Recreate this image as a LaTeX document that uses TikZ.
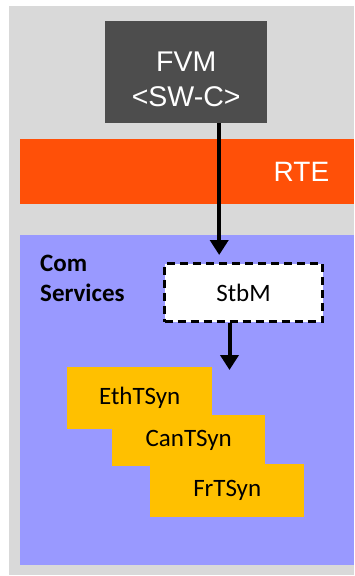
\documentclass[tikz,border=0pt]{standalone}
\usepackage{fontspec}
\setmainfont{Carlito}
\newfontfamily\arialfont{Liberation Sans}
\usetikzlibrary{arrows.meta}
\definecolor{panelgrey}{HTML}{D9D9D9}
\definecolor{swcgrey}{HTML}{4D4D4D}
\definecolor{rteorange}{HTML}{FF5008}
\definecolor{comblue}{HTML}{9999FF}
\definecolor{tsyngold}{HTML}{FFC000}

\begin{document}
\begin{tikzpicture}[x=1pt, y=-1pt,
  block/.style={anchor=north west, inner sep=0pt, font=\fontsize{25}{30}\selectfont},
  tsyn/.style={block, fill=tsyngold},
  flow/.style={line width=4pt, -{Triangle[length=15pt, width=18pt]}}]
  \useasboundingbox (0,0) rectangle (354,576);
  \fill[panelgrey] (9,6) rectangle (354,575);

  % software component and runtime environment
  \node[block, fill=swcgrey, text=white, minimum width=162pt, minimum height=102pt,
    align=center, font=\arialfont\fontsize{28.5}{35}\selectfont] (fvm) at (105,21)
    {\rule{0pt}{33pt}FVM\\<SW-C>};
  \node[block, fill=rteorange, text=white, minimum height=65pt, text width=284pt,
    inner xsep=25pt, align=right, font=\arialfont\fontsize{28}{32}\selectfont] (rte) at (20,139) {RTE};

  % communication services
  \node[block, fill=comblue, minimum width=334pt, minimum height=330pt] (com) at (20,235) {};
  \node[block, align=left, font=\bfseries\fontsize{25}{30.5}\selectfont] (comlabel) at (40,254.5) {Com\\Services};
  \node[block, fill=white, draw=black, line width=3pt, dash pattern=on 8pt off 5pt,
    minimum width=158pt, minimum height=58pt] (stbm) at (163,262) {StbM};

  \node[tsyn, minimum width=145pt, minimum height=62pt] (eth) at (67,367) {EthTSyn};
  \node[tsyn, minimum width=153pt, minimum height=51pt] (can) at (112,415) {CanTSyn};
  \node[tsyn, minimum width=154pt, minimum height=53pt] (fr) at (150,464) {FrTSyn};

  \draw[flow, shorten >=7pt] ([xshift=33pt]fvm.south) -- ([xshift=33pt]fvm.south |- stbm.north);
  \draw[flow, shorten >=-3pt] ([xshift=-14pt]stbm.south) -- ([xshift=-14pt]stbm.south |- eth.north);
\end{tikzpicture}
\end{document}
